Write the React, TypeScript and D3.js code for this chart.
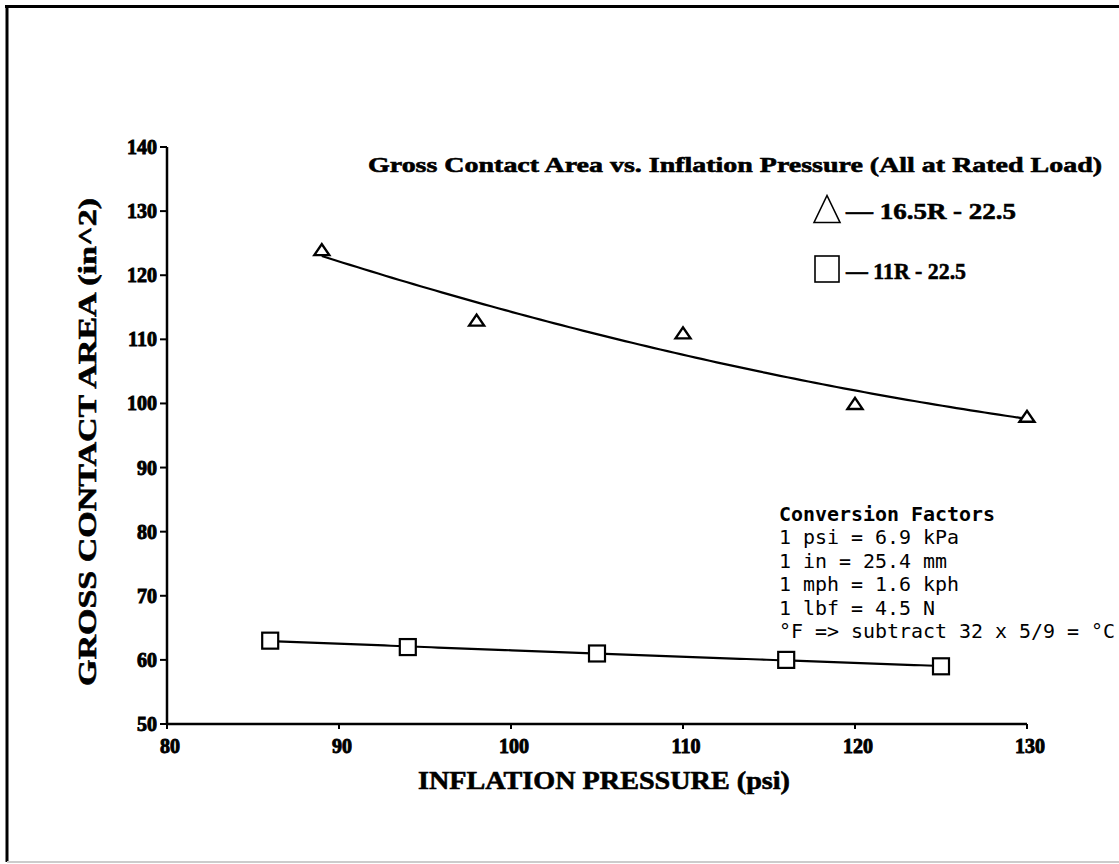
import React from "react";
import * as d3 from "d3";

// Tire footprint measurements at rated load
const pressure165 = [89, 98, 110, 120, 130];
const area165 = [124, 113, 111, 100, 98];
const pressure11 = [86, 94, 105, 116, 125];
const area11 = [63, 62, 61, 60, 59];

const xTicks = [80, 90, 100, 110, 120, 130];
const yTicks = [50, 60, 70, 80, 90, 100, 110, 120, 130, 140];

const legendLabels = ["— 16.5R - 22.5", "— 11R - 22.5"];
const conversionLines = [
  "Conversion Factors",
  "1 psi = 6.9 kPa",
  "1 in = 25.4 mm",
  "1 mph = 1.6 kph",
  "1 lbf = 4.5 N",
  "°F => subtract 32 x 5/9 = °C",
];

const W = 1119;
const H = 864;

// least-squares quadratic fit y = a + b x + c x^2
function quadFit(xs: number[], ys: number[]) {
  const n = xs.length;
  const mx = d3.mean(xs)!;
  const u = xs.map((x) => x - mx);
  let s2 = 0, s3 = 0, s4 = 0, sy = 0, suy = 0, su2y = 0;
  for (let i = 0; i < n; i++) {
    s2 += u[i] ** 2;
    s3 += u[i] ** 3;
    s4 += u[i] ** 4;
    sy += ys[i];
    suy += u[i] * ys[i];
    su2y += u[i] ** 2 * ys[i];
  }
  const A = [
    [n, 0, s2],
    [0, s2, s3],
    [s2, s3, s4],
  ];
  const B = [sy, suy, su2y];
  const det = (m: number[][]) =>
    m[0][0] * (m[1][1] * m[2][2] - m[1][2] * m[2][1]) -
    m[0][1] * (m[1][0] * m[2][2] - m[1][2] * m[2][0]) +
    m[0][2] * (m[1][0] * m[2][1] - m[1][1] * m[2][0]);
  const D = det(A);
  const coef = [0, 1, 2].map((k) => {
    const M = A.map((row, r) => row.map((v, c) => (c === k ? B[r] : v)));
    return det(M) / D;
  });
  return (x: number) => coef[0] + coef[1] * (x - mx) + coef[2] * (x - mx) ** 2;
}

export default function App() {
  const x = d3.scaleLinear().domain([80, 130]).range([167, 1027]);
  const y = d3.scaleLinear().domain([50, 140]).range([724, 147]);

  const fit165 = quadFit(pressure165, area165);
  const fit11 = quadFit(pressure11, area11);
  const line = d3
    .line<number[]>()
    .x((d) => x(d[0]))
    .y((d) => y(d[1]));
  const sample = (lo: number, hi: number, f: (v: number) => number) =>
    d3.range(0, 101).map((i) => {
      const v = lo + ((hi - lo) * i) / 100;
      return [v, f(v)];
    });

  const serif = "'Liberation Serif', 'Times New Roman', serif";
  const mono = "'DejaVu Sans Mono', 'Liberation Mono', monospace";

  const tri = (cx: number, cy: number, w: number, h: number) =>
    `M${cx - w / 2},${cy + h / 2}L${cx},${cy - h / 2}L${cx + w / 2},${cy + h / 2}Z`;

  return (
    <svg
      width={W}
      height={H}
      style={{ position: "absolute", left: 0, top: 0, background: "#fff" }}
    >
      <rect x={0} y={0} width={W} height={H} fill="#fff" />
      {/* page frame */}
      <line x1={5} y1={6.5} x2={W} y2={6.5} stroke="#000" strokeWidth={3} />
      <line x1={7} y1={5} x2={7} y2={862} stroke="#000" strokeWidth={3} />
      <line x1={7} y1={862} x2={W} y2={862} stroke="#ccc" strokeWidth={2} />

      {/* axes */}
      <line x1={x(80)} y1={y(140)} x2={x(80)} y2={y(50)} stroke="#000" strokeWidth={2.5} />
      <line x1={x(80)} y1={y(50)} x2={x(130)} y2={y(50)} stroke="#000" strokeWidth={2.5} />
      {yTicks.map((t) => (
        <g key={"y" + t}>
          <line x1={x(80) - 7} x2={x(80)} y1={y(t)} y2={y(t)} stroke="#000" strokeWidth={2} />
          <text
            x={x(80) - 10}
            y={y(t)}
            dy="0.35em"
            textAnchor="end"
            fontFamily={serif}
            fontWeight="bold"
            fontSize={20}
            stroke="#000"
            strokeWidth={0.9}
          >
            {t}
          </text>
        </g>
      ))}
      {xTicks.map((t) => (
        <g key={"x" + t}>
          <line x1={x(t)} x2={x(t)} y1={y(50)} y2={y(50) + 5} stroke="#000" strokeWidth={2} />
          <text
            x={x(t) + 3}
            y={y(50) + 29}
            textAnchor="middle"
            fontFamily={serif}
            fontWeight="bold"
            fontSize={20}
            stroke="#000"
            strokeWidth={0.9}
          >
            {t}
          </text>
        </g>
      ))}

      {/* axis titles */}
      <text
        x={604}
        y={789}
        textAnchor="middle"
        fontFamily={serif}
        fontWeight="bold"
        fontSize={26}
        textLength={372}
        lengthAdjust="spacingAndGlyphs"
        stroke="#000"
        strokeWidth={0.6}
      >
        INFLATION PRESSURE (psi)
      </text>
      <text
        transform={`translate(96,${442}) rotate(-90)`}
        textAnchor="middle"
        fontFamily={serif}
        fontWeight="bold"
        fontSize={26}
        textLength={488}
        lengthAdjust="spacingAndGlyphs"
        stroke="#000"
        strokeWidth={0.6}
      >
        GROSS CONTACT AREA (in^2)
      </text>

      {/* chart title */}
      <text
        x={368}
        y={172}
        fontFamily={serif}
        fontWeight="bold"
        fontSize={22}
        textLength={734}
        lengthAdjust="spacingAndGlyphs"
        stroke="#000"
        strokeWidth={0.6}
      >
        Gross Contact Area vs. Inflation Pressure (All at Rated Load)
      </text>

      {/* fitted curves */}
      <path d={line(sample(89, 130, fit165))!} fill="none" stroke="#000" strokeWidth={2.2} />
      <path d={line(sample(86, 125, fit11))!} fill="none" stroke="#000" strokeWidth={2.2} />

      {/* data markers */}
      {pressure165.map((p, i) => (
        <path
          key={"t" + i}
          d={tri(x(p), y(area165[i]), 15, 11)}
          fill="#fff"
          stroke="#000"
          strokeWidth={2.4}
        />
      ))}
      {pressure11.map((p, i) => (
        <rect
          key={"s" + i}
          x={x(p) - 8}
          y={y(area11[i]) - 8}
          width={16}
          height={16}
          fill="#fff"
          stroke="#000"
          strokeWidth={2.2}
        />
      ))}

      {/* legend */}
      <path d={tri(827, 209, 26, 27)} fill="#fff" stroke="#000" strokeWidth={1.6} />
      <rect x={815} y={256} width={24} height={26} fill="#fff" stroke="#000" strokeWidth={1.6} />
      {legendLabels.map((l, i) => (
        <text
          key={l}
          x={846}
          y={219 + i * 60}
          fontFamily={serif}
          fontWeight="bold"
          fontSize={24}
          textLength={i === 0 ? 170 : 120}
          lengthAdjust="spacingAndGlyphs"
          stroke="#000"
          strokeWidth={0.6}
        >
          {l}
        </text>
      ))}

      {/* conversion factors */}
      {conversionLines.map((l, i) => (
        <text
          key={l}
          x={779}
          y={521 + i * 23.4}
          fontFamily={mono}
          fontWeight={i === 0 ? "bold" : "normal"}
          fontSize={19}
          textLength={l.length * 12}
          lengthAdjust="spacingAndGlyphs"
        >
          {l}
        </text>
      ))}
    </svg>
  );
}
